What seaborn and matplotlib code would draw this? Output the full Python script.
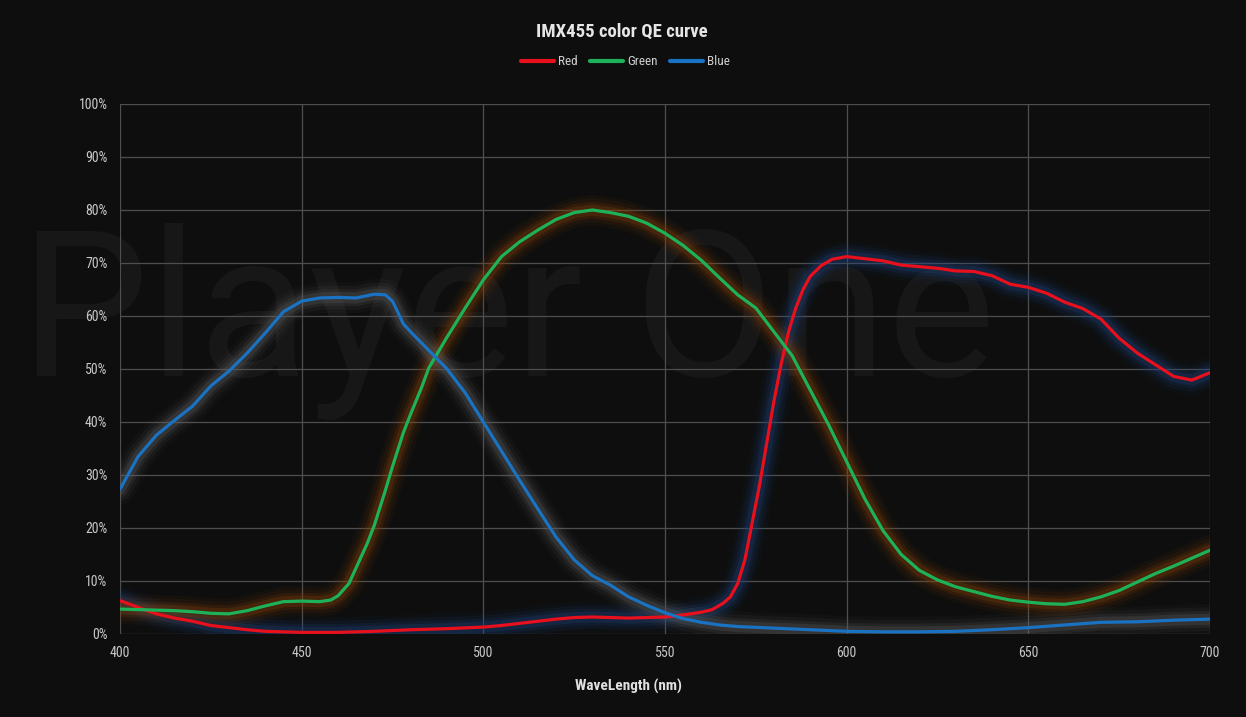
import numpy as np
import pandas as pd
import matplotlib
matplotlib.use("Agg")
import matplotlib.pyplot as plt
from matplotlib import font_manager
import seaborn as sns

# QE readings (percent) per wavelength
blue_nm = [400, 405, 410, 415, 420, 425, 430, 435, 440, 445, 450, 455, 460, 465, 470, 473,
           475, 478, 480, 485, 490, 495, 500, 505, 510, 515, 520, 525, 530, 535, 540, 545,
           550, 555, 560, 565, 570, 580, 590, 600, 610, 620, 630, 640, 650, 660, 670, 680,
           690, 700]
blue_qe = [27.3, 33.5, 37.5, 40.3, 43.0, 46.8, 49.6, 53.0, 56.8, 60.8, 62.8, 63.4, 63.5, 63.4,
           64.1, 64.0, 62.8, 58.5, 57.0, 53.5, 50.0, 45.5, 40.0, 34.5, 29.0, 23.6, 18.3, 14.0,
           11.0, 9.2, 7.0, 5.4, 4.0, 2.9, 2.2, 1.7, 1.4, 1.1, 0.8, 0.5, 0.4, 0.4, 0.5, 0.8,
           1.2, 1.7, 2.2, 2.3, 2.6, 2.8]

green_nm = [400, 405, 410, 415, 420, 425, 430, 435, 440, 445, 450, 455, 458, 460, 463, 465,
            468, 470, 473, 475, 478, 480, 483, 485, 490, 495, 500, 505, 510, 515, 520, 525,
            530, 535, 540, 545, 550, 555, 560, 565, 570, 575, 580, 585, 590, 595, 600, 605,
            610, 615, 620, 625, 630, 635, 640, 645, 650, 655, 660, 665, 670, 675, 680, 685,
            690, 695, 700]
green_qe = [4.7, 4.6, 4.5, 4.4, 4.2, 3.9, 3.8, 4.4, 5.3, 6.1, 6.2, 6.1, 6.4, 7.2, 9.5, 12.5,
            17.0, 20.5, 27.0, 31.6, 38.0, 41.5, 46.5, 50.2, 56.0, 61.5, 66.8, 71.2, 74.0, 76.2,
            78.2, 79.5, 80.0, 79.5, 78.8, 77.5, 75.6, 73.3, 70.5, 67.2, 64.0, 61.5, 57.0, 52.5,
            46.0, 39.5, 32.5, 25.5, 19.5, 15.0, 12.0, 10.2, 8.9, 8.0, 7.1, 6.4, 6.0, 5.7, 5.6,
            6.1, 7.0, 8.2, 9.8, 11.4, 12.8, 14.3, 15.8]

red_nm = [400, 405, 410, 415, 420, 425, 430, 435, 440, 450, 460, 470, 480, 490, 500, 505,
          510, 515, 520, 525, 530, 540, 550, 555, 560, 563, 566, 568, 570, 572, 574, 576,
          578, 580, 582, 584, 586, 588, 590, 593, 596, 600, 605, 610, 615, 620, 625, 630,
          635, 640, 645, 650, 655, 660, 665, 670, 675, 680, 685, 690, 695, 700]
red_qe = [6.3, 5.0, 3.8, 3.0, 2.4, 1.6, 1.2, 0.8, 0.5, 0.3, 0.3, 0.5, 0.8, 1.0, 1.3, 1.6,
          2.0, 2.4, 2.8, 3.1, 3.2, 3.0, 3.2, 3.6, 4.1, 4.6, 5.8, 7.0, 9.5, 14.0, 21.0, 28.0,
          36.0, 44.0, 51.0, 57.0, 61.5, 65.0, 67.5, 69.5, 70.7, 71.2, 70.8, 70.4, 69.6, 69.3,
          69.0, 68.5, 68.4, 67.6, 66.0, 65.4, 64.3, 62.6, 61.4, 59.4, 55.8, 53.0, 50.8, 48.6,
          47.9, 49.3]

x_ticks = [400, 450, 500, 550, 600, 650, 700]
y_ticks = list(range(0, 101, 10))

colors = {"Red": "#e8101c", "Green": "#1db25a", "Blue": "#1a72c2"}
glows = {"Red": "#1d4480", "Green": "#8a4208", "Blue": "#606060"}

df = pd.concat([
    pd.DataFrame({"nm": red_nm, "qe": red_qe, "channel": "Red"}),
    pd.DataFrame({"nm": green_nm, "qe": green_qe, "channel": "Green"}),
    pd.DataFrame({"nm": blue_nm, "qe": blue_qe, "channel": "Blue"}),
], ignore_index=True)

bg = "#0e0e0e"
sns.set_style("dark", {"axes.facecolor": bg, "figure.facecolor": bg})

# pick a narrow face if one is installed
installed = {f.name for f in font_manager.fontManager.ttflist}
narrow = [n for n in ["Roboto Condensed", "Liberation Sans Narrow", "DejaVu Sans Condensed",
                      "Open Sans Condensed"] if n in installed]
plt.rcParams["font.family"] = narrow + ["DejaVu Sans"]
if not narrow:
    plt.rcParams["font.stretch"] = "condensed"

fig = plt.figure(figsize=(12.46, 7.17), dpi=100)
ax = fig.add_axes([0.0963, 0.1158, 0.8748, 0.7392])
ax.set_facecolor(bg)

# watermark behind the grid
ax.text(0.016, 0.475, "Player One", transform=fig.transFigure, clip_on=False,
        family=["Roboto", "DejaVu Sans"], weight="normal", fontsize=147, color="#171717",
        ha="left", va="baseline", zorder=0)

# glow under each line
for name in ["Red", "Green", "Blue"]:
    sub = df[df.channel == name]
    for lw, a in [(22, 0.06), (17, 0.10), (12, 0.16), (8, 0.25)]:
        sns.lineplot(data=sub, x="nm", y="qe", ax=ax, color=glows[name], lw=lw, alpha=a,
                     legend=False, sort=False, solid_capstyle="round",
                     solid_joinstyle="round", zorder=2)

sns.lineplot(data=df, x="nm", y="qe", hue="channel", palette=colors, ax=ax, lw=2.3,
             sort=False, zorder=3, legend=False)
for ln in ax.get_lines():
    ln.set_solid_joinstyle("round")

ax.set_xlim(400, 700)
ax.set_ylim(0, 100)
ax.set_xticks(x_ticks)
ax.set_yticks(y_ticks)
ax.set_yticklabels([f"{v}%" for v in y_ticks])
ax.grid(True, color="#4e4e4e", lw=0.9, zorder=1)
ax.set_axisbelow(True)
for s in ax.spines.values():
    s.set_visible(False)
ax.tick_params(colors="#c8c8c8", labelsize=10, length=0, pad=9)
ax.set_xlabel("")
ax.set_ylabel("")

fig.text(0.499, 0.956, "IMX455 color QE curve", ha="center", va="center", fontsize=13.5,
         weight="bold", color="#e6e6e6")
fig.text(0.504, 0.042, "WaveLength (nm)", ha="center", va="center", fontsize=11,
         weight="bold", color="#e0e0e0")

handles = [plt.Line2D([], [], color=colors[n], lw=3) for n in ["Red", "Green", "Blue"]]
leg = fig.legend(handles, ["Red", "Green", "Blue"], loc="center", bbox_to_anchor=(0.502, 0.914),
                 ncol=3, frameon=False, fontsize=9.5, handlelength=2.5, handletextpad=0.25,
                 columnspacing=1.0)
for t in leg.get_texts():
    t.set_color("#cfcfcf")

fig.savefig("out.png", dpi=100, facecolor=bg)
